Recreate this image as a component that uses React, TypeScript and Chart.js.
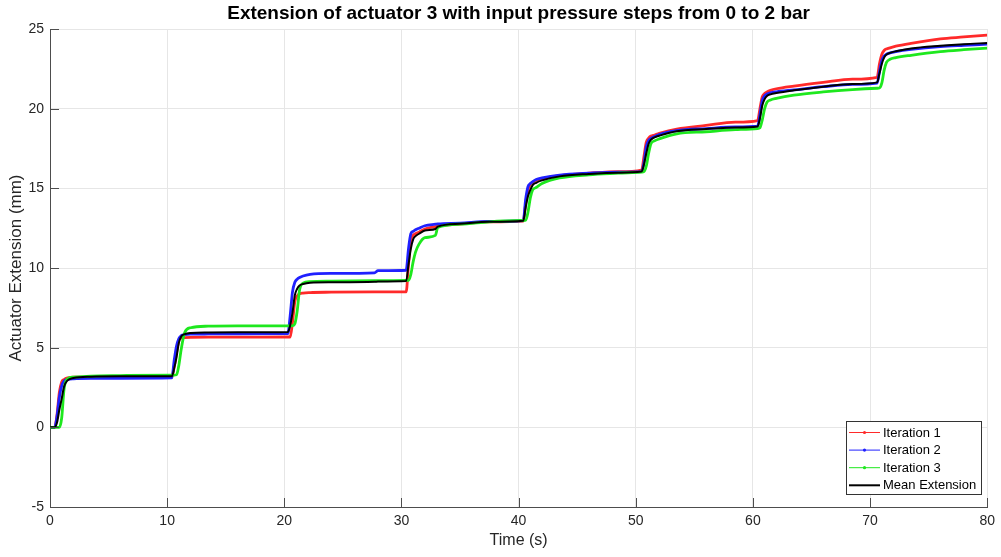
import React, { useEffect, useRef } from "react";
import { Chart, registerables } from "chart.js";

Chart.register(...registerables);

const titleText = "Extension of actuator 3 with input pressure steps from 0 to 2 bar";
const xLabel = "Time (s)";
const yLabel = "Actuator Extension (mm)";
const seriesNames = ["Iteration 1", "Iteration 2", "Iteration 3", "Mean Extension"];
const seriesColors = ["#ff2a2a", "#2020ff", "#1ee81e", "#000000"];
const xTicks = [0, 10, 20, 30, 40, 50, 60, 70, 80];
const yTicks = [-5, 0, 5, 10, 15, 20, 25];

const time = [
  0, 0.4, 0.6, 0.8, 1.0, 1.2, 1.5, 2, 3.5, 6, 10.4,
  10.6, 10.8, 11.0, 11.2, 11.5, 12, 13.5, 16, 20.3,
  20.5, 20.7, 20.9, 21.1, 21.3, 21.6, 22.2, 24, 27.7, 28, 30.4,
  30.6, 30.8, 31.0, 31.2, 31.5, 32, 32.9, 33.1, 35, 37.5, 40.4,
  40.6, 40.8, 41.0, 41.2, 41.5, 42, 43.5, 46, 48.5, 50.5,
  50.7, 50.9, 51.1, 51.3, 51.6, 52, 53.5, 56, 58.5, 60.4,
  60.6, 60.8, 61.0, 61.2, 61.5, 62, 63.5, 66, 68.5, 70.6,
  70.8, 71.0, 71.2, 71.4, 71.7, 72.2, 73.5, 76, 78, 80,
];

const iteration1 = [
  0, 0, 0.8, 2.2, 2.85, 3.0, 3.1, 3.15, 3.15, 3.12, 3.12,
  3.8, 4.7, 5.45, 5.6, 5.63, 5.65, 5.66, 5.66, 5.67,
  5.67, 6.6, 7.9, 8.25, 8.38, 8.43, 8.46, 8.48, 8.5, 8.5, 8.5,
  10.2, 11.7, 12.05, 12.15, 12.25, 12.45, 12.6, 12.63, 12.75, 12.9, 12.95,
  14.0, 14.9, 15.25, 15.38, 15.5, 15.6, 15.8, 15.95, 16.05, 16.15,
  17.0, 17.9, 18.15, 18.28, 18.35, 18.45, 18.72, 18.95, 19.15, 19.25,
  20.0, 20.75, 20.95, 21.05, 21.15, 21.25, 21.42, 21.65, 21.85, 21.97,
  22.8, 23.4, 23.65, 23.75, 23.82, 23.92, 24.1, 24.38, 24.5, 24.62,
];

const iteration2 = [
  0, 0, 0.7, 1.9, 2.6, 2.9, 3.0, 3.05, 3.08, 3.08, 3.1,
  4.2, 5.1, 5.57, 5.75, 5.82, 5.85, 5.86, 5.87, 5.88,
  7.0, 8.5, 9.1, 9.3, 9.4, 9.5, 9.6, 9.66, 9.7, 9.83, 9.86,
  11.2, 12.15, 12.3, 12.4, 12.5, 12.65, 12.75, 12.77, 12.82, 12.92, 12.98,
  14.3, 15.1, 15.3, 15.42, 15.55, 15.65, 15.83, 15.95, 16.02, 16.05,
  16.6, 17.6, 18.0, 18.13, 18.25, 18.38, 18.62, 18.75, 18.85, 18.9,
  19.6, 20.5, 20.8, 20.92, 21.0, 21.06, 21.18, 21.38, 21.52, 21.6,
  22.3, 23.0, 23.3, 23.42, 23.5, 23.58, 23.72, 23.9, 23.98, 24.05,
];

const iteration3 = [
  0, 0, 0, 0, 0.6, 2.4, 3.05, 3.15, 3.22, 3.25, 3.28,
  3.28, 3.3, 3.9, 4.9, 5.95, 6.25, 6.35, 6.37, 6.37,
  6.37, 6.38, 6.5, 7.3, 8.6, 9.05, 9.15, 9.18, 9.2, 9.2, 9.22,
  9.23, 9.6, 10.4, 11.0, 11.5, 11.9, 12.05, 12.55, 12.75, 12.9, 12.98,
  13.0, 13.5, 14.4, 14.9, 15.05, 15.3, 15.65, 15.85, 15.95, 16.02,
  16.05, 16.4, 17.2, 17.8, 17.98, 18.1, 18.42, 18.55, 18.68, 18.75,
  18.8, 19.3, 20.0, 20.4, 20.55, 20.65, 20.85, 21.05, 21.2, 21.28,
  21.3, 21.6, 22.4, 22.9, 23.1, 23.2, 23.35, 23.58, 23.7, 23.8,
];

const meanExtension = [
  0, 0, 0.3, 1.1, 1.8, 2.55, 2.95, 3.1, 3.18, 3.2, 3.2,
  3.7, 4.4, 5.3, 5.7, 5.85, 5.92, 5.95, 5.96, 5.98,
  6.4, 7.2, 8.3, 8.7, 8.9, 9.0, 9.08, 9.1, 9.13, 9.15, 9.18,
  10.2, 11.2, 11.8, 12.0, 12.15, 12.35, 12.45, 12.6, 12.78, 12.9, 12.97,
  13.8, 14.5, 14.9, 15.2, 15.35, 15.5, 15.75, 15.9, 15.98, 16.05,
  16.5, 17.2, 17.8, 18.05, 18.2, 18.3, 18.58, 18.72, 18.82, 18.88,
  19.4, 20.2, 20.6, 20.8, 20.9, 20.98, 21.15, 21.38, 21.55, 21.65,
  22.2, 22.8, 23.2, 23.4, 23.5, 23.6, 23.78, 23.95, 24.05, 24.12,
];

const FONT = '"Liberation Sans", Arial, Helvetica, sans-serif';

const decorPlugin = {
  id: "decor",
  afterDraw(chart: any) {
    const { ctx, chartArea: a, scales } = chart;
    const x = scales.x;
    const y = scales.y;
    ctx.save();
    // inward tick marks
    ctx.strokeStyle = "#4d4d4d";
    ctx.lineWidth = 1;
    ctx.beginPath();
    xTicks.forEach((v) => {
      const px = Math.round(x.getPixelForValue(v)) + 0.5;
      ctx.moveTo(px, a.bottom);
      ctx.lineTo(px, a.bottom - 9);
    });
    yTicks.forEach((v) => {
      const py = Math.round(y.getPixelForValue(v)) + 0.5;
      ctx.moveTo(a.left, py);
      ctx.lineTo(a.left + 9, py);
    });
    ctx.stroke();

    // title
    ctx.fillStyle = "#000";
    ctx.textAlign = "center";
    ctx.textBaseline = "middle";
    ctx.font = `bold 19px ${FONT}`;
    ctx.fillText(titleText, (a.left + a.right) / 2, 14);

    // axis labels
    ctx.fillStyle = "#262626";
    ctx.font = `16px ${FONT}`;
    ctx.fillText(xLabel, (a.left + a.right) / 2, 541);
    ctx.save();
    ctx.translate(16, (a.top + a.bottom) / 2);
    ctx.rotate(-Math.PI / 2);
    ctx.font = `17px ${FONT}`;
    ctx.fillText(yLabel, 0, 0);
    ctx.restore();

    // legend
    const bx = 846.5;
    const by = 421.5;
    const bw = 135;
    const bh = 73;
    ctx.fillStyle = "#fff";
    ctx.fillRect(bx, by, bw, bh);
    ctx.strokeStyle = "#333";
    ctx.lineWidth = 1;
    ctx.strokeRect(bx, by, bw, bh);
    ctx.font = `13px ${FONT}`;
    ctx.textAlign = "left";
    ctx.textBaseline = "middle";
    seriesNames.forEach((name, i) => {
      const ry = 432.5 + i * 17.6;
      ctx.strokeStyle = seriesColors[i];
      ctx.lineWidth = i === 3 ? 2 : 1;
      ctx.beginPath();
      ctx.moveTo(849, ry);
      ctx.lineTo(880, ry);
      ctx.stroke();
      if (i < 3) {
        ctx.fillStyle = seriesColors[i];
        ctx.beginPath();
        ctx.arc(864.5, ry, 1.6, 0, Math.PI * 2);
        ctx.fill();
      }
      ctx.fillStyle = "#000";
      ctx.fillText(name, 883, ry + 0.5);
    });
    ctx.restore();
  },
};

export default function App() {
  const canvasRef = useRef<HTMLCanvasElement | null>(null);

  useEffect(() => {
    const canvas = canvasRef.current;
    if (!canvas) return;
    const series = [iteration1, iteration2, iteration3, meanExtension];
    const chart = new Chart(canvas, {
      type: "line",
      data: {
        datasets: series.map((arr, i) => ({
          label: seriesNames[i],
          data: time.map((t, k) => ({ x: t, y: arr[k] })),
          borderColor: seriesColors[i],
          backgroundColor: seriesColors[i],
          borderWidth: i === 3 ? 2 : 2.8,
          pointRadius: 0,
          cubicInterpolationMode: "monotone" as const,
          fill: false,
          order: 4 - i,
        })),
      },
      options: {
        animation: false,
        responsive: false,
        devicePixelRatio: 1,
        layout: { padding: { top: 29, right: 13, left: 0, bottom: 0 } },
        plugins: {
          legend: { display: false },
          title: { display: false },
          tooltip: { enabled: false },
        },
        scales: {
          x: {
            type: "linear",
            min: 0,
            max: 80,
            afterFit: (s: any) => {
              s.height = 50;
            },
            afterBuildTicks: (s: any) => {
              s.ticks = xTicks.map((v) => ({ value: v }));
            },
            grid: { color: "#e6e6e6", drawTicks: false },
            border: { display: true, color: "#4d4d4d", width: 1 },
            ticks: {
              padding: 6,
              color: "#262626",
              font: { family: FONT, size: 14 },
              maxRotation: 0,
            },
          },
          y: {
            type: "linear",
            min: -5,
            max: 25,
            afterFit: (s: any) => {
              s.width = 50;
            },
            afterBuildTicks: (s: any) => {
              s.ticks = yTicks.map((v) => ({ value: v }));
            },
            grid: { color: "#e6e6e6", drawTicks: false },
            border: { display: true, color: "#4d4d4d", width: 1 },
            ticks: {
              padding: 6,
              color: "#262626",
              font: { family: FONT, size: 14 },
            },
          },
        },
      },
      plugins: [decorPlugin],
    });
    return () => chart.destroy();
  }, []);

  return (
    <div style={{ position: "fixed", left: 0, top: 0, width: 1001, height: 557, background: "#fff" }}>
      <canvas ref={canvasRef} width={1001} height={557} style={{ display: "block" }} />
    </div>
  );
}
